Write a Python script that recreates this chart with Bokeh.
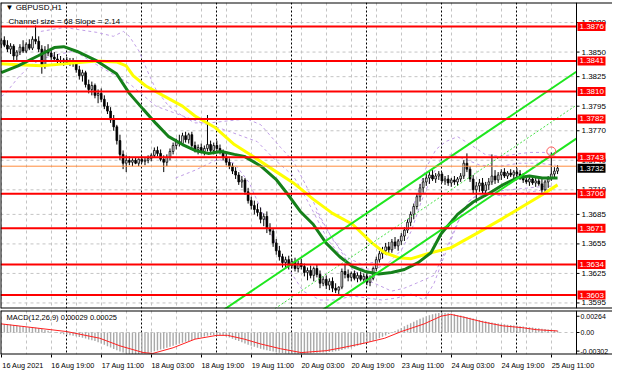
from bokeh.plotting import figure
from bokeh.layouts import column
from bokeh.models import ColumnDataSource, FixedTicker, Label, Range1d
from bokeh.core.properties import value
from bokeh.embed import file_html
from bokeh.resources import INLINE

FONT = "Liberation Sans"
BASE = 1.3600  # candle / line prices below are given in pips above this base

# ---------------- time axis ----------------
time_labels = ["16 Aug 2021", "16 Aug 19:00", "17 Aug 11:00", "18 Aug 03:00", "18 Aug 19:00",
               "19 Aug 11:00", "20 Aug 03:00", "20 Aug 19:00", "23 Aug 11:00", "24 Aug 03:00",
               "24 Aug 19:00", "25 Aug 11:00"]
label_bars = [0, 16, 32, 48, 64, 80, 96, 112, 128, 144, 160, 176]
separator_bars = [21, 45, 69, 93, 117, 141, 165]          # midnights
grid_bars = [0, 8, 16, 24, 32, 40, 48, 56, 64, 72, 80, 88, 96, 104, 112, 120, 128, 136,
             144, 152, 160, 168, 176]

# ---------------- price axis ----------------
price_ticks = [1.3880, 1.3850, 1.3825, 1.3795, 1.3770, 1.3740, 1.3710, 1.3685, 1.3655, 1.3625, 1.3595]
level_prices = [1.3876, 1.3841, 1.3810, 1.3782, 1.3743, 1.3706, 1.3671, 1.3634, 1.3603]
current_price = [1.3732]
orange_line_price = [1.3734]
alert_bar = [176]
alert_price = [1.3749]

# ---------------- candles (pips above 1.3600) ----------------
open_pips = [258, 262, 257, 253, 256, 246, 250, 255, 251, 258,
             254, 263, 261, 253, 236, 252, 249, 245, 243, 241,
             240, 242, 239, 241, 238, 232, 226, 229, 217, 212,
             216, 206, 208, 202, 195, 190, 181, 174, 160, 146,
             137, 140, 138, 140, 137, 141, 139, 140, 142, 145,
             150, 147, 141, 138, 143, 149, 155, 159, 157, 165,
             161, 166, 155, 151, 153, 149, 152, 156, 150, 155,
             152, 148, 143, 138, 134, 129, 125, 118, 120, 108,
             99, 94, 90, 87, 80, 83, 71, 68, 56, 48,
             42, 36, 39, 33, 37, 30, 35, 32, 26, 28,
             23, 30, 24, 15, 19, 13, 17, 10, 8, 11,
             27, 24, 21, 25, 20, 23, 19, 22, 16, 20,
             30, 39, 45, 48, 52, 49, 57, 53, 58, 63,
             69, 77, 85, 93, 103, 112, 118, 122, 125, 121,
             124, 126, 119, 121, 117, 120, 118, 121, 124, 137,
             131, 121, 110, 114, 117, 109, 115, 118, 124, 120,
             125, 128, 124, 127, 125, 128, 126, 123, 120, 118,
             121, 117, 119, 116, 110, 118, 121, 126, 129]
high_pips = [264, 266, 262, 259, 258, 252, 258, 262, 260, 263,
             266, 277, 266, 257, 256, 258, 253, 250, 248, 246,
             244, 245, 244, 244, 241, 236, 232, 231, 222, 220,
             218, 212, 213, 206, 199, 194, 186, 176, 166, 150,
             145, 144, 142, 143, 142, 144, 143, 145, 147, 153,
             154, 151, 145, 146, 152, 158, 162, 166, 168, 169,
             168, 169, 159, 156, 157, 155, 186, 160, 158, 160,
             156, 151, 147, 142, 137, 133, 128, 124, 122, 112,
             103, 99, 96, 92, 86, 88, 76, 70, 60, 53,
             45, 42, 43, 40, 41, 38, 40, 35, 31, 33,
             32, 34, 28, 22, 23, 20, 21, 15, 12, 30,
             35, 29, 27, 28, 26, 27, 25, 26, 23, 32,
             42, 48, 52, 56, 57, 60, 62, 60, 66, 72,
             80, 88, 96, 106, 116, 122, 126, 128, 130, 127,
             129, 128, 124, 125, 122, 124, 123, 127, 140, 147,
             134, 125, 118, 121, 122, 118, 122, 146, 130, 128,
             131, 132, 129, 131, 130, 132, 130, 127, 125, 123,
             124, 122, 123, 121, 120, 124, 148, 133, 135]
low_pips = [254, 255, 250, 248, 242, 240, 247, 249, 249, 252,
            252, 258, 250, 228, 233, 246, 242, 240, 238, 237,
            236, 237, 236, 235, 229, 222, 220, 214, 208, 206,
            203, 198, 199, 192, 187, 178, 170, 156, 140, 131,
            128, 135, 134, 136, 134, 137, 135, 137, 139, 143,
            144, 139, 128, 134, 140, 146, 151, 154, 155, 158,
            157, 152, 148, 146, 147, 145, 149, 147, 146, 149,
            146, 140, 135, 131, 126, 121, 115, 112, 105, 96,
            90, 85, 83, 76, 73, 66, 64, 52, 44, 38,
            31, 30, 29, 30, 27, 26, 29, 22, 18, 20,
            17, 21, 10, 12, 9, 8, 6, 5, 3, 9,
            20, 17, 17, 18, 16, 17, 15, 13, 12, 18,
            27, 36, 40, 44, 45, 46, 50, 48, 54, 58,
            66, 73, 80, 90, 98, 107, 114, 116, 119, 117,
            120, 117, 115, 114, 113, 115, 114, 118, 121, 128,
            118, 106, 97, 108, 106, 103, 110, 115, 116, 117,
            120, 122, 121, 123, 121, 123, 120, 117, 116, 114,
            115, 113, 114, 107, 106, 112, 119, 123, 126]
close_pips = [262, 257, 253, 256, 246, 250, 255, 251, 258, 254,
              263, 261, 253, 236, 252, 249, 245, 243, 241, 240,
              242, 239, 241, 238, 232, 226, 229, 217, 212, 216,
              206, 208, 202, 195, 190, 181, 174, 160, 146, 137,
              140, 138, 140, 137, 141, 139, 140, 142, 145, 150,
              147, 141, 138, 143, 149, 155, 159, 157, 165, 161,
              166, 155, 151, 153, 149, 152, 156, 150, 155, 152,
              148, 143, 138, 134, 129, 125, 118, 120, 108, 99,
              94, 90, 87, 80, 83, 71, 68, 56, 48, 42,
              36, 39, 33, 37, 30, 35, 32, 26, 28, 23,
              30, 24, 15, 19, 13, 17, 10, 8, 11, 27,
              24, 21, 25, 20, 23, 19, 22, 16, 20, 30,
              39, 45, 48, 52, 49, 57, 53, 58, 63, 69,
              77, 85, 93, 103, 112, 118, 122, 125, 121, 124,
              126, 119, 121, 117, 120, 118, 121, 124, 137, 131,
              121, 110, 114, 117, 109, 115, 118, 124, 120, 125,
              128, 124, 127, 125, 128, 126, 123, 120, 118, 121,
              117, 119, 116, 110, 118, 121, 126, 129, 132]

# ---------------- moving averages (bar index, pips) ----------------
green_ma_bars = [0, 5.4, 11.7, 17, 20, 24.3, 30.6, 36.9, 41, 45.4, 49.5, 53.6, 58, 62, 66.2, 70.5,
                 74.6, 77.8, 83.1, 88.1, 91.3, 95.7, 99.8, 103.9, 108.3, 112.4, 116.4, 120.8,
                 124.9, 129, 133.4, 137.5, 140.7, 146, 151, 156.4, 160.5, 164.9, 169, 173.1, 178]
green_ma_pips = [229, 236, 246, 254.6, 255.5, 250.6, 241, 228, 208, 192, 177.5, 164, 156, 150, 147, 149,
                 146, 144, 134, 120, 107, 88, 75, 56, 42, 32, 27, 24.5,
                 26, 29, 36, 46, 65, 85, 97.6, 107, 115, 122, 124, 122, 122]
yellow_ma_bars = [0, 5.4, 13, 20.2, 30.6, 36.9, 40, 42.2, 46.3, 51.7, 58, 62, 68.3, 74.6, 81, 87.2,
                  93.5, 99.8, 106, 112.4, 118.6, 122.7, 127.1, 131.2, 137.5, 143.8, 152.3, 160.5,
                  166.8, 173.1, 178]
yellow_ma_pips = [238, 237, 236, 238, 241, 240, 236, 226, 215.5, 206, 195, 185, 173.6, 156, 143, 130,
                  117, 100.5, 86, 75, 56, 46, 41, 40, 46, 51, 66, 81,
                  93, 105, 115]

# ---------------- dashed envelope lines (bar index, pips) ----------------
env_a_bars = [12.7, 20.2, 30.6, 35.9, 39.1, 41, 44.1, 47.3, 49.5, 53.6, 58, 62, 66.8, 72.4, 78.7, 83.1,
              89.4, 93.5, 97.6, 102, 106.1, 110.8, 115.5, 120.2, 124.9, 129, 132.8, 135.9, 139.1,
              142.2, 146, 150.1, 154.8, 159.5, 164.2, 169, 173.7, 177.4]
env_a_pips = [271, 275, 270, 266, 271, 266, 251, 227, 212, 195, 185, 178, 178, 180, 182, 176,
              153, 139, 114, 83, 59, 41, 34, 37, 47, 68, 102, 132, 151,
              159, 164, 156, 146, 144, 146, 148, 148, 144]
env_b_bars = [0, 1.4, 5.4, 9.5, 13.9, 17.1, 23.4, 30.6, 41, 49.5, 64.2, 71.5, 81.9, 88.1, 93.5, 96.6,
              99.8, 104.5, 109.2, 114, 118.6, 123.4, 128.1, 131.2, 134.4, 137.5, 140.7, 143.8,
              148.5, 153.2, 159.5, 165.8, 172.1, 177.4]
env_b_pips = [205, 208, 224, 237, 244, 247, 251, 237, 218, 195, 178, 171, 159, 139, 124, 107,
              88, 59, 41, 31, 29, 34, 49, 68, 98, 122, 141, 146,
              141, 135, 134, 137, 137, 135]
env_c_bars = [55.8, 62.1, 69.3, 74.6, 79.4, 84.1, 88.8, 92.5, 96.6, 102, 107, 112.4, 117.1, 121.8,
              126.5, 131.2, 135.3, 138.5, 141.3, 144.4, 147.6, 150.7, 154.8, 161.1, 167.4, 173.7, 177.4]
env_c_pips = [122, 130, 141, 137, 117, 83, 47, 27, 7, -2, -2, 2, 0, -2,
              0, 4, -2, 15, 39, 63, 88, 102, 105, 104, 107, 110, 112]
env_d_bars = [100.7, 103.9, 107, 112.4, 117.1, 120.8, 124.9, 129, 132.8, 138.5, 142.2, 145.4, 149.5,
              153.2, 159.5, 165.8, 172.1, 177.4]
env_d_pips = [88, 71, 56, 29, 18, 13, 7, 10, 15, 23, 49, 73, 98,
              107, 109, 111, 113, 114]

# ---------------- regression channel (bar index, pips) ----------------
channel_bars = [60, 184]
channel_upper_pips = [-36, 230]
channel_mid_pips = [-70, 196]
channel_lower_pips = [-104, 162]

# ---------------- MACD (units of 1e-5) ----------------
macd_hist = [145, 140, 135, 128, 120, 112, 105, 98, 90, 84,
             80, 78, 70, 55, 42, 30, 18, 5, -8, -20,
             -30, -38, -45, -52, -60, -72, -85, -98, -112, -125,
             -140, -160, -180, -200, -222, -245, -268, -290, -310, -325,
             -338, -345, -350, -352, -350, -346, -340, -330, -318, -305,
             -292, -278, -262, -248, -232, -216, -200, -184, -168, -152,
             -136, -120, -104, -90, -76, -64, -54, -46, -40, -36,
             -40, -50, -65, -82, -100, -120, -140, -160, -180, -198,
             -215, -232, -248, -262, -275, -288, -300, -310, -320, -328,
             -334, -340, -344, -346, -347, -346, -344, -341, -338, -335,
             -330, -328, -326, -324, -322, -318, -312, -304, -295, -285,
             -272, -258, -244, -230, -215, -200, -184, -168, -150, -132,
             -112, -92, -70, -48, -25, 0, 25, 50, 75, 100,
             125, 150, 175, 200, 222, 244, 264, 282, 296, 308,
             316, 320, 318, 312, 304, 295, 285, 274, 262, 250,
             238, 226, 214, 203, 192, 182, 172, 163, 155, 147,
             140, 133, 126, 120, 114, 108, 102, 96, 90, 85,
             80, 74, 68, 62, 56, 50, 44, 36, 29]
signal_bars = [0, 21, 31.5, 38, 45.4, 48.5, 55, 62, 69, 72.4, 77.8, 83, 89.4, 96, 104, 109, 116.4,
               122.7, 128, 135.3, 140.7, 143.8, 148, 154.2, 160.5, 166.8, 171.2, 178]
signal_vals = [140, 15, -93, -217, -325, -340, -248, -108, -46, -46, -108, -186, -264, -326, -295, -248,
               -170, -93, 15, 140, 264, 295, 248, 170, 108, 78, 46, 25]
macd_ticks = [0.00264, 0.0, -0.00302]
macd_tick_labels = ["0.00264", "0.00", "-0.00302"]

n = len(close_pips)
assert len(open_pips) == n and len(high_pips) == n and len(low_pips) == n and len(macd_hist) == n


def px(pips):
    return [BASE + v / 10000.0 for v in pips]


# ---------------- layout constants ----------------
PLOT_W = 576                 # chart area width in px
LABEL_W = 36                 # price-scale strip
FRAME_W = PLOT_W + LABEL_W
X0, X1 = -0.22, 184.06       # visible bar range of the chart area
PX_PER_BAR = PLOT_W / (X1 - X0)
XR1 = X0 + FRAME_W / PX_PER_BAR
Y0, Y1 = 1.358935, 1.390038
M0, M1 = -0.003572, 0.003572
GRID = "#c4c4c4"

bars = list(range(n))
opens, highs, lows, closes = px(open_pips), px(high_pips), px(low_pips), px(close_pips)
fill = ["white" if c >= o else "black" for o, c in zip(opens, closes)]
candles = ColumnDataSource(dict(x=bars, open=opens, close=closes, high=highs, low=lows,
                                top=[max(o, c) for o, c in zip(opens, closes)],
                                bottom=[min(o, c) for o, c in zip(opens, closes)], fill=fill))

xr = Range1d(X0, XR1)
p = figure(frame_width=FRAME_W, frame_height=306, x_range=xr, y_range=Range1d(Y0, Y1),
           output_backend="svg", toolbar_location=None, x_axis_location=None, y_axis_location=None,
           min_border_left=0, min_border_top=2, min_border_bottom=1, min_border_right=0)
p.background_fill_color = "white"
p.border_fill_color = "white"
p.outline_line_color = None
p.grid.visible = False


def hlines(fig, ys, **kw):
    k = len(ys)
    fig.segment(x0=[X0] * k, x1=[X1] * k, y0=ys, y1=ys, **kw)


def scale_labels(fig, ys, texts, size, offset):
    k = len(ys)
    fig.segment(x0=[X1] * k, x1=[X1 + 3 / PX_PER_BAR] * k, y0=ys, y1=ys, line_color="black", line_width=1)
    fig.text(x=[X1] * k, y=ys, text=texts, x_offset=offset, text_font=value(FONT), text_font_size=size,
             text_baseline="middle", text_align="left", text_color="black")


def frame_lines(fig, y_lo, y_hi):
    fig.hspan(y=[y_lo, y_hi], line_color="black", line_width=2)
    fig.vspan(x=[X0], line_color="black", line_width=2)
    fig.vspan(x=[X1], line_color="black", line_width=1)


# grid
hlines(p, price_ticks, line_color=GRID, line_dash="3 3", line_width=1)
p.vspan(x=grid_bars, line_color=GRID, line_dash="3 3", line_width=1)
# day separators
p.vspan(x=separator_bars, line_color="black", line_dash="2 2", line_width=1)

# dashed envelopes
for bx, by in [(env_a_bars, env_a_pips), (env_b_bars, env_b_pips),
               (env_c_bars, env_c_pips), (env_d_bars, env_d_pips)]:
    p.line(bx, px(by), line_color="#c09ee6", line_dash="3 3", line_width=1)

# candles
p.segment(x0="x", y0="low", x1="x", y1="high", source=candles, line_color="black", line_width=1)
p.vbar(x="x", width=0.56, top="top", bottom="bottom", source=candles, fill_color="fill",
       line_color="black", line_width=0.8)

# moving averages
p.line(yellow_ma_bars, px(yellow_ma_pips), line_color="#ffff00", line_width=3)
p.line(green_ma_bars, px(green_ma_pips), line_color="#15801a", line_width=3)

# regression channel
p.line(channel_bars, px(channel_upper_pips), line_color="#1ee61e", line_width=2)
p.line(channel_bars, px(channel_lower_pips), line_color="#1ee61e", line_width=2)
p.line(channel_bars, px(channel_mid_pips), line_color="#44e044", line_width=1, line_dash="2 2")

# horizontal levels
hlines(p, orange_line_price, line_color="#ff8c3c", line_width=1)
hlines(p, level_prices, line_color="#ff0000", line_width=2)

p.scatter(alert_bar, alert_price, marker="circle", size=9, fill_color=None,
          line_color="#ff5a5a", line_width=1)

frame_lines(p, Y0, Y1)

# price scale
scale_labels(p, price_ticks, ["%.4f" % t for t in price_ticks], "8px", 5)
box_x = X1 + 15 / PX_PER_BAR
p.rect(x=[box_x] * len(level_prices), y=level_prices, width=28, height=9,
       width_units="screen", height_units="screen", fill_color="#ff0000", line_color=None)
p.text(x=[X1] * len(level_prices), y=level_prices, text=["%.4f" % v for v in level_prices],
       x_offset=3, text_font=value(FONT), text_font_size="8px", text_baseline="middle",
       text_align="left", text_color="white")
p.rect(x=[box_x], y=current_price, width=28, height=9, width_units="screen", height_units="screen",
       fill_color="black", line_color=None)
p.text(x=[X1], y=current_price, text=["%.4f" % v for v in current_price], x_offset=3,
       text_font=value(FONT), text_font_size="8px", text_baseline="middle", text_align="left",
       text_color="white")

p.add_layout(Label(x=5, y=301, x_units="screen", y_units="screen", text="▼ GBPUSD,H1",
                   text_font=FONT, text_font_size="8px", text_baseline="middle", text_color="black"))
p.add_layout(Label(x=8, y=287, x_units="screen", y_units="screen",
                   text="Channel size = 68 Slope = 2.14",
                   text_font=FONT, text_font_size="8px", text_baseline="middle", text_color="black"))

# ---------------- MACD panel ----------------
m = figure(frame_width=FRAME_W, frame_height=44, x_range=xr, y_range=Range1d(M0, M1),
           output_backend="svg", toolbar_location=None, y_axis_location=None, x_axis_location="below",
           min_border_left=0, min_border_top=1, min_border_bottom=18, min_border_right=0)
m.background_fill_color = "white"
m.border_fill_color = "white"
m.outline_line_color = None
m.grid.visible = False
hlines(m, [0.0], line_color=GRID, line_dash="3 3", line_width=1)
m.vspan(x=grid_bars, line_color=GRID, line_dash="3 3", line_width=1)
m.vspan(x=separator_bars, line_color="black", line_dash="2 2", line_width=1)

m.vbar(x=bars, width=0.45, top=[v / 1e5 for v in macd_hist], bottom=0,
       fill_color="#a9a9a9", line_color=None)
m.line(signal_bars, [v / 1e5 for v in signal_vals], line_color="#ff2020", line_width=1)

frame_lines(m, M0, M1)
scale_labels(m, macd_ticks, macd_tick_labels, "7px", 4)

mx = m.xaxis[0]
label_pos = [b + 7 for b in label_bars]
mx.ticker = FixedTicker(ticks=label_pos, minor_ticks=label_bars)
mx.major_label_overrides = {pos: lab for pos, lab in zip(label_pos, time_labels)}
mx.major_label_text_font = FONT
mx.major_label_text_font_size = "7.3px"
mx.major_label_text_color = "black"
mx.major_tick_out = 0
mx.major_tick_in = 0
mx.minor_tick_out = 3
mx.minor_tick_in = 0
mx.minor_tick_line_color = "black"
mx.major_label_standoff = 3
mx.axis_line_color = None

m.add_layout(Label(x=6, y=37, x_units="screen", y_units="screen",
                   text="MACD(12,26,9) 0.00029 0.00025",
                   text_font=FONT, text_font_size="7.5px", text_baseline="middle", text_color="black"))

layout = column(p, m, spacing=0)
open("out.html", "w").write(file_html(layout, INLINE))
